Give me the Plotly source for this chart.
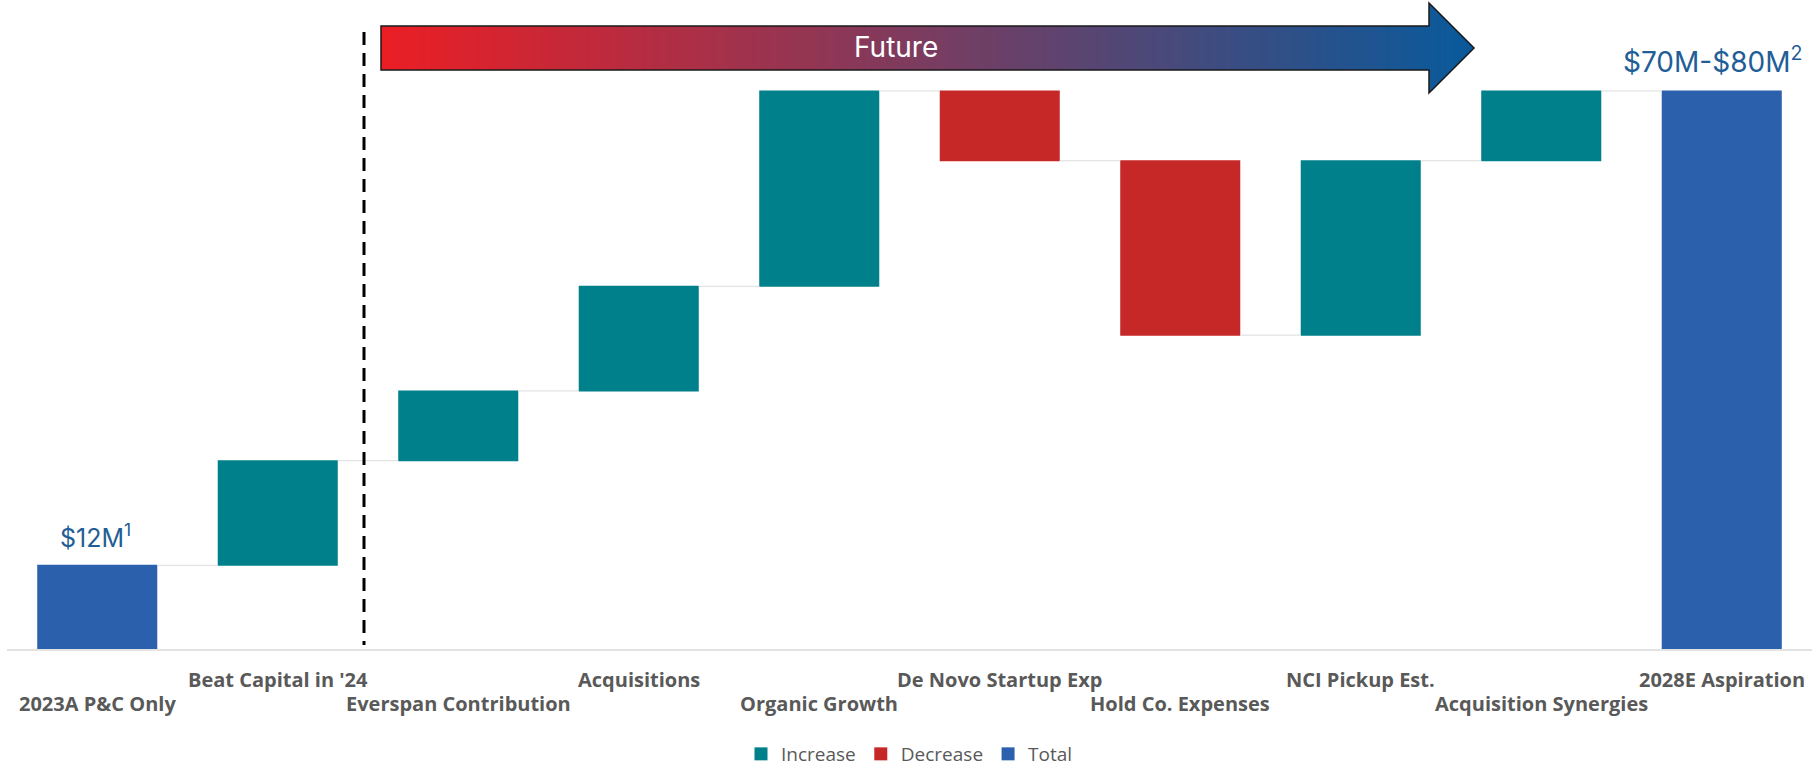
import plotly.graph_objects as go

# ---- data -------------------------------------------------------------
categories = [
    "2023A P&C Only",
    "Beat Capital in '24",
    "Everspan Contribution",
    "Acquisitions",
    "Organic Growth",
    "De Novo Startup Exp",
    "Hold Co. Expenses",
    "NCI Pickup Est.",
    "Acquisition Synergies",
    "2028E Aspiration",
]
measures = ["absolute"] + ["relative"] * 8 + ["total"]
values = [12, 15, 10, 15, 28, -10, -25, 25, 10, 0]  # $M
legend_names = ["Increase", "Decrease", "Total"]
start_label = "$12M<sup>1</sup>"
end_label = "$70M-$80M<sup>2</sup>"

# ---- styling ----------------------------------------------------------
TEAL = "#00808A"
RED = "#C62828"
BLUE = "#2A60AC"
LABEL_BLUE = "#1F5E96"
GRAY_TXT = "#595959"

W, H = 1812, 768
M_L, M_R, M_T, M_B = 7, 0, 0, 119
PW, PH = W - M_L - M_R, H - M_T - M_B


def px(x):
    return (x - M_L) / PW


def py(y):
    return (H - M_B - y) / PH


fig = go.Figure()

fig.add_trace(go.Waterfall(
    x=categories,
    y=values,
    measure=measures,
    increasing=dict(marker=dict(color=TEAL)),
    decreasing=dict(marker=dict(color=RED)),
    totals=dict(marker=dict(color=BLUE)),
    connector=dict(line=dict(color="#DCDCDC", width=1)),
    showlegend=False,
    hoverinfo="x+y",
))

# legend swatches
for name, col in zip(legend_names, [TEAL, RED, BLUE]):
    fig.add_trace(go.Scatter(
        x=[None], y=[None], mode="markers", name=name,
        marker=dict(symbol="square", size=13, color=col),
    ))

annotations = []

# alternating two-row category labels
for i, cat in enumerate(categories):
    annotations.append(dict(
        x=cat, xref="x", y=0, yref="paper",
        text=f"<b>{cat}</b>", showarrow=False,
        yanchor="middle", xanchor="center",
        yshift=-30 if i % 2 else -54,
        font=dict(family="Open Sans", size=20, color=GRAY_TXT),
    ))

# value call-outs
annotations.append(dict(
    x=categories[0], xref="x", y=values[0], yref="y",
    text=start_label, showarrow=False, yanchor="middle",
    yshift=29, xshift=-2,
    font=dict(family="Inter", size=25, color=LABEL_BLUE),
))
annotations.append(dict(
    x=categories[-1], xref="x", y=sum(values[:-1]), yref="y",
    text=end_label, showarrow=False, yanchor="middle",
    yshift=31, xshift=-9,
    font=dict(family="Inter", size=28, color=LABEL_BLUE),
))

# "Future" arrow text
annotations.append(dict(
    x=px(896), xref="paper", y=py(47), yref="paper",
    text="Future", showarrow=False, yanchor="middle",
    font=dict(family="Inter", size=28, color="white"),
))

shapes = []

# gradient arrow: body then head, filled in thin vertical slices
X0, XH, XT = 381, 1429, 1474
YB0, YB1, YC = 26, 70, 48
C0 = (236, 30, 36)
C1 = (8, 90, 156)


def grad(xm):
    t = (xm - X0) / (XT - X0)
    r, g, b = (round(a + (bb - a) * t) for a, bb in zip(C0, C1))
    return f"rgb({r},{g},{b})"


def path(pts):
    return "M " + " L ".join(f"{px(x):.6f},{py(y):.6f}" for x, y in pts) + " Z"


step = 5
x = X0
while x < XH:
    x2 = min(x + step, XH)
    shapes.append(dict(
        type="path", xref="paper", yref="paper",
        path=path([(x, YB0), (x2 + 0.8, YB0), (x2 + 0.8, YB1), (x, YB1)]),
        fillcolor=grad((x + x2) / 2), line=dict(width=0),
    ))
    x = x2
x = XH
while x < XT:
    x2 = min(x + 3, XT)
    h1, h2 = XT - x, XT - x2
    shapes.append(dict(
        type="path", xref="paper", yref="paper",
        path=path([(x, YC - h1), (x2 + 0.6, YC - h2), (x2 + 0.6, YC + h2), (x, YC + h1)]),
        fillcolor=grad((x + x2) / 2), line=dict(width=0),
    ))
    x = x2

shapes.append(dict(
    type="path", xref="paper", yref="paper",
    path=path([(X0, YB0), (XH, YB0), (XH, 3), (XT, YC), (XH, 93), (XH, YB1), (X0, YB1)]),
    line=dict(color="#1A1A1A", width=1.5),
))

# actual / forecast divider
shapes.append(dict(
    type="line", xref="paper", yref="paper",
    x0=px(364), x1=px(364), y0=py(32), y1=py(645),
    line=dict(color="black", width=3, dash="13px,8px"),
))

fig.update_layout(
    width=W, height=H,
    margin=dict(l=M_L, r=M_R, t=M_T, b=M_B),
    paper_bgcolor="white", plot_bgcolor="white",
    waterfallgap=0.335,
    xaxis=dict(showticklabels=False, ticks="", showgrid=False,
               showline=True, linecolor="#E3E3E3", linewidth=2,
               range=[-0.5, 9.5]),
    yaxis=dict(visible=False, range=[0, PH / 6.975], showgrid=False,
               zeroline=False),
    legend=dict(orientation="h", x=0.5, xanchor="center",
                yref="container", y=(H - 754) / H, yanchor="middle",
                font=dict(family="Open Sans", size=19, color=GRAY_TXT),
                itemwidth=30, bgcolor="rgba(0,0,0,0)"),
    annotations=annotations,
    shapes=shapes,
    showlegend=True,
)

fig.write_html("out.html")
